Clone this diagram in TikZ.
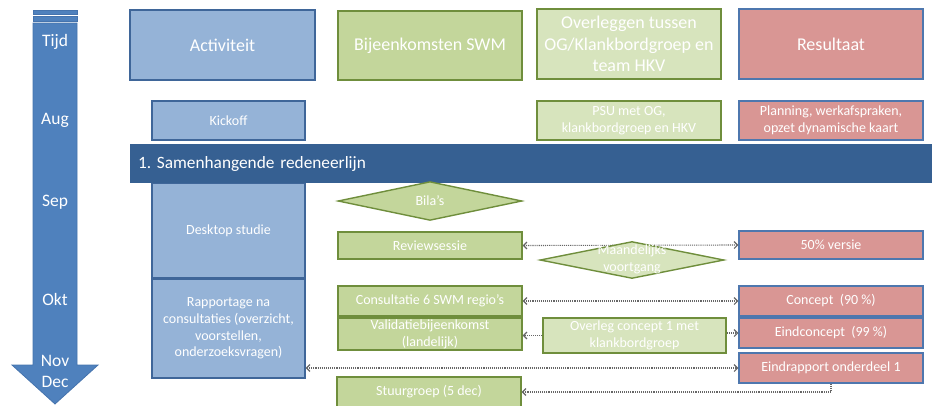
\documentclass[tikz,border=0pt]{standalone}
\usepackage{fontspec}
\setmainfont{Carlito}
\usetikzlibrary{arrows.meta,shapes.geometric}
\definecolor{TimeBlue}{HTML}{4F81BD}
\definecolor{TimeEdge}{HTML}{4573AD}
\definecolor{ActFill}{HTML}{95B3D7}
\definecolor{ActEdge}{HTML}{3F6699}
\definecolor{Band}{HTML}{366092}
\definecolor{SwmFill}{HTML}{C3D69B}
\definecolor{OgFill}{HTML}{D7E4BD}
\definecolor{GreenEdge}{HTML}{6F8E3C}
\definecolor{ResFill}{HTML}{D99694}
\definecolor{ResEdge}{HTML}{4E77AE}
\definecolor{Link}{HTML}{666666}

\tikzset{
  box/.style={draw,line width=1.4pt,text=white,align=center,inner sep=1pt},
  actbox/.style={box,fill=ActFill,draw=ActEdge},
  swmbox/.style={box,fill=SwmFill,draw=GreenEdge},
  ogbox/.style={box,fill=OgFill,draw=GreenEdge},
  resbox/.style={box,fill=ResFill,draw=ResEdge},
  swmdiamond/.style={swmbox,diamond,inner sep=0pt},
  ogdiamond/.style={ogbox,diamond,inner sep=0pt},
  headfont/.style={font=\fontsize{18}{21.7}\selectfont},
  smallfont/.style={font=\fontsize{14}{16.8}\selectfont},
  monthfont/.style={text=white,font=\fontsize{17.5}{20}\selectfont},
  barb/.tip={Straight Barb[length=3.5pt,width=7pt]},
  link/.style={draw=Link,line width=1.1pt,densely dotted,-barb},
  twolink/.style={link,barb-barb},
}

\begin{document}
\begin{tikzpicture}[x=1pt,y=-1pt]
    \useasboundingbox (0,0) rectangle (932,405);

    % time line
    \draw[TimeEdge,fill=TimeBlue,line width=0.8pt] (33,10) rectangle (77,14.5);
    \draw[TimeEdge,fill=TimeBlue,line width=0.8pt] (33,16.5) rectangle (77,21.5);
    \draw[TimeEdge,fill=TimeBlue,line width=0.8pt] (33,23) -- (77,23) -- (77,365) -- (98,365)
        -- (55,404) -- (12,365) -- (33,365) -- cycle;
    \node[monthfont] (tijd) at (55,42) {Tijd};
    \node[monthfont] (aug) at (55,120) {Aug};
    \node[monthfont] (sep) at (55,202) {Sep};
    \node[monthfont] (okt) at (55,299) {Okt};
    \node[monthfont] (nov) at (55,361) {Nov};
    \node[monthfont] (dec) at (55,382) {Dec};

    % column heads
    \node[actbox,headfont,minimum width=185pt,minimum height=70pt] (act) at (222.5,45) {Activiteit};
    \node[swmbox,headfont,minimum width=184pt,minimum height=69pt] (swm) at (430,45.5) {Bijeenkomsten SWM};
    \node[ogbox,headfont,minimum width=184pt,minimum height=70pt] (og) at (629,44) {Overleggen tussen\\OG/Klankbordgroep en\\team HKV};
    \node[resbox,headfont,minimum width=184pt,minimum height=70pt] (res) at (831,44) {Resultaat};

    % kickoff
    \node[actbox,smallfont,minimum width=153pt,minimum height=39pt] (kick) at (228.5,120.5) {Kickoff};
    \node[ogbox,smallfont,minimum width=184pt,minimum height=39pt] (psu) at (629,120.5) {PSU met OG,\\klankbordgroep en HKV};
    \node[resbox,smallfont,minimum width=184pt,minimum height=39pt] (plan) at (831,120.5) {Planning, werkafspraken,\\opzet dynamische kaart};

    % activities
    \node[actbox,smallfont,minimum width=153pt,minimum height=95pt] (desk) at (228.5,230.5) {Desktop studie};
    \node[actbox,smallfont,minimum width=153pt,minimum height=99pt] (rapp) at (228.5,328.5) {Rapportage na\\consultaties (overzicht,\\voorstellen,\\onderzoeksvragen)};

    % band
    \node[fill=Band,text=white,minimum width=806pt,minimum height=39pt,text width=790pt,align=left,
        font=\fontsize{17.3}{20}\selectfont] (band) at (533,163.5) {1.\ Samenhangende redeneerlijn};

    % meetings and results
    \node[swmdiamond,smallfont,minimum width=184pt,minimum height=36pt] (bila) at (430,201) {Bila’s};
    \node[swmbox,smallfont,minimum width=184pt,minimum height=27pt] (review) at (430,245.5) {Reviewsessie};
    \node[resbox,smallfont,minimum width=184pt,minimum height=28pt] (half) at (831,245) {50\% versie};
    \draw[twolink] (review.east) -- (half.west);
    \node[ogdiamond,minimum width=184pt,minimum height=37pt] (maand) at (632,260) {};
    \node[text=white,smallfont,align=center] (maandtxt) at (632,259) {Maandelijks\\voortgang};

    \node[swmbox,smallfont,minimum width=184pt,minimum height=30pt] (cons) at (430,301) {Consultatie 6 SWM regio’s};
    \node[resbox,smallfont,minimum width=184pt,minimum height=30pt] (conc) at (831,301) {Concept~ (90 \%)};
    \draw[twolink] (cons.east) -- (conc.west);

    \node[swmbox,smallfont,minimum width=184pt,minimum height=32pt] (valid) at (430,334) {Validatiebijeenkomst\\(landelijk)};
    \node[ogbox,smallfont,minimum width=183pt,minimum height=35pt] (overleg) at (634.5,335.5) {Overleg concept 1 met\\klankbordgroep};
    \node[resbox,smallfont,minimum width=184pt,minimum height=30pt] (eindc) at (831,333) {Eindconcept~ (99 \%)};
    \draw[link] (overleg.west) -- (overleg.west -| valid.east);
    \draw[link] (overleg.east |- eindc.west) -- (eindc.west);

    \node[resbox,smallfont,minimum width=184pt,minimum height=30pt] (eindr) at (831,368) {Eindrapport onderdeel 1};
    \draw[twolink] (rapp.east |- eindr.west) -- (eindr.west);

    \node[swmbox,smallfont,minimum width=184pt,minimum height=30pt] (stuur) at (429,392) {Stuurgroep (5 dec)};
    \draw[link] (eindr.south) |- (stuur.east);
\end{tikzpicture}
\end{document}
